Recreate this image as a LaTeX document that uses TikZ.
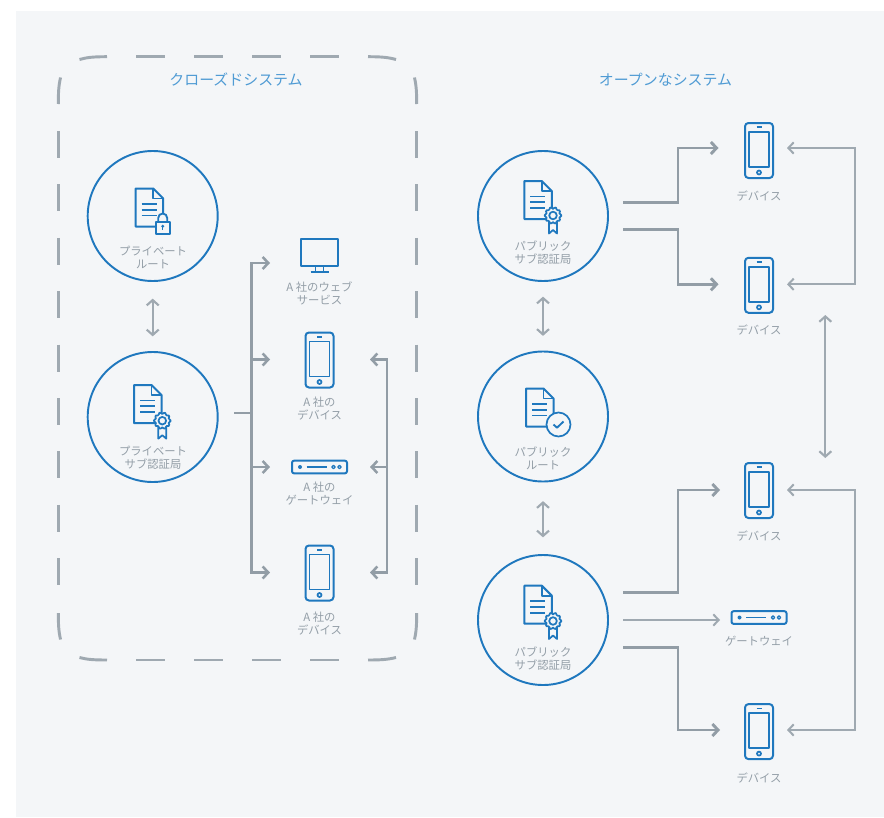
\documentclass[tikz,border=0pt]{standalone}
\usepackage{fontspec}
\setmainfont{Noto Sans CJK JP}
\usetikzlibrary{arrows.meta}
\definecolor{bgc}{HTML}{F4F6F8}
\definecolor{blu}{HTML}{1F78BE}
\definecolor{ttl}{HTML}{4F9BD4}
\definecolor{gry}{HTML}{929DA6}
\definecolor{grl}{HTML}{9FA9B1}
\definecolor{txt}{HTML}{939EA7}
\tikzset{
  ca/.style={circle,draw=blu,line width=1.45pt,minimum size=97.5pt,inner sep=0pt},
  lab/.style={text=txt,font=\fontsize{8.5pt}{9.9pt}\selectfont,align=center,inner sep=0pt},
  ttlt/.style={text=ttl,font=\fontsize{11.2pt}{13pt}\selectfont,inner sep=0pt},
  ic/.style={draw=blu,line width=1.5pt,line join=round},
  dsh/.style={draw=grl,line width=2.2pt},
  tipb/.style={-{Straight Barb[length=4.2pt,width=9pt]}},
  thk/.style={draw=gry,line width=2.2pt,tipb},
  mid/.style={draw=gry,line width=1.9pt,tipb},
  thn/.style={draw=grl,line width=1.5pt,-{Straight Barb[length=4pt,width=8.5pt]}},
  dbl/.style={draw=grl,line width=1.6pt,{Straight Barb[length=4pt,width=9pt]}-{Straight Barb[length=4pt,width=9pt]}},
  box/.style={inner sep=0pt,minimum width=#1,minimum height=1pt},
  phone/.pic={
    \draw[ic,rounded corners=2.6pt] (-14,-27.5) rectangle (14,27.5);
    \draw[ic,line width=1.3pt] (-10,-18.5) rectangle (10,16.5);
    \draw[ic,line width=1.3pt] (-2.5,-23.2) -- (2.5,-23.2);
    \draw[ic,line width=1.3pt] (0,22) circle[radius=2];
  },
  gatew/.pic={
    \draw[ic,rounded corners=1.5pt] (-27.5,-6.3) rectangle (27.5,6.3);
    \fill[blu] (-19.5,0) circle[radius=2];
    \draw[ic,line width=1.2pt] (-13,0) -- (7,0);
    \draw[ic,line width=1pt] (14,0) circle[radius=1.7] (20,0) circle[radius=1.7];
  },
  monitor/.pic={
    \draw[ic] (-18.7,-13.5) rectangle (18.7,13.5);
    \draw[ic,line width=1.3pt] (-4,13.5) -- (-4,19.5) (4,13.5) -- (4,19.5);
    \draw[ic] (-9,19.5) -- (9,19.5);
  },
  docu/.pic={
    \draw[ic] (0,0) -- (17.5,0) -- (27.5,10) -- (27.5,38) -- (0,38) -- cycle;
    \draw[ic,line width=1.2pt] (17.5,0) -- (17.5,10) -- (27.5,10);
    \draw[ic,line width=1.2pt] (6,15.5) -- (21,15.5) (6,21.2) -- (21,21.2) (6,27) -- (21,27);
  },
  sealp/.pic={
    \draw[ic,fill=bgc,line width=1.3pt] (-4,4) -- (-4,18) -- (0,14.5) -- (4,18) -- (4,4);
    \draw[ic,fill=bgc,line width=1.3pt] plot[domain=0:350,samples=36,smooth cycle] ({(7.6+.9*cos(10*\x))*cos(\x)},{(7.6+.9*cos(10*\x))*sin(\x)});
    \draw[ic,line width=1.3pt] (0,0) circle[radius=3.8];
  },
  lockp/.pic={
    \draw[ic,line width=1.4pt,fill=bgc] (-4.5,0) -- (-4.5,-4) arc[start angle=180,end angle=360,radius=4.5] -- (4.5,0);
    \draw[ic,fill=bgc] (-7.2,0) rectangle (7.2,11.5);
    \fill[blu] (0,4.2) circle[radius=1.6];
    \draw[ic,line width=1pt] (0,4.2) -- (0,8);
  },
  checkp/.pic={
    \draw[ic,fill=bgc,line width=1.3pt] (0,0) circle[radius=12];
    \draw[ic,line width=1.4pt] (-5,0) -- (-1.5,3.2) -- (5,-3);
  },
}
\begin{document}
\begin{tikzpicture}[x=.75pt,y=-.75pt]
\useasboundingbox (0,0) rectangle (884,817);
\fill[bgc] (16,11) rectangle (884,817);

% dashed frame
\foreach \a in {136,194,252,310}{
  \draw[dsh] (\a,56.7) -- ++(29,0);
  \draw[dsh] (\a,660) -- ++(29,0);
}
\foreach \a in {131,184.4,237.8,291.2,344.6,398,451.4,504.8,558.2}{
  \draw[dsh] (58.3,\a) -- ++(0,27);
  \draw[dsh] (416.7,\a) -- ++(0,27);
}
\draw[dsh] (79.5,59.5) .. controls (87,57.3) and (94,56.7) .. (107,56.7);
\draw[dsh] (396,59.5) .. controls (388,57.3) and (381,56.7) .. (368,56.7);
\draw[dsh] (79.5,657.5) .. controls (87,659.5) and (94,660) .. (107,660);
\draw[dsh] (396,657.5) .. controls (388,659.5) and (381,660) .. (368,660);
\draw[dsh] (60.5,77.5) .. controls (58.8,85) and (58.3,92) .. (58.3,104);
\draw[dsh] (414.5,77.5) .. controls (416.2,85) and (416.7,92) .. (416.7,104);
\draw[dsh] (60.5,639.5) .. controls (58.8,632) and (58.3,625) .. (58.3,613);
\draw[dsh] (414.5,639.5) .. controls (416.2,632) and (416.7,625) .. (416.7,613);

% titles
\node[ttlt] (t1) at (236,80) {クローズドシステム};
\node[ttlt] (t2) at (665.5,80) {オープンなシステム};

% circles
\node[ca] (c1) at (152.7,216) {};
\node[ca] (c2) at (152.7,417) {};
\node[ca] (c3) at (543,216) {};
\node[ca] (c4) at (543,416.5) {};
\node[ca] (c5) at (543,620) {};

% circle icons
\pic at (135.7,188.5) {docu};
\pic at (162.7,222) {lockp};
\pic at (134,385) {docu};
\pic at (162.3,420.7) {sealp};
\pic at (524.3,181) {docu};
\pic at (553,215.5) {sealp};
\pic at (526,388.5) {docu};
\pic at (558.5,424.5) {checkp};
\pic at (524.3,585.7) {docu};
\pic at (553,621) {sealp};

% circle labels
\node[lab] (l1) at (153,257.5) {プライベート\\ルート};
\node[lab] (l2) at (153,457.5) {プライベート\\サブ認証局};
\node[lab] (l3) at (543,252.5) {パブリック\\サブ認証局};
\node[lab] (l4) at (543,458.5) {パブリック\\ルート};
\node[lab] (l5) at (543,658.5) {パブリック\\サブ認証局};

% device icons
\node[box=20pt] (m1) at (319.5,252.5) {}; \pic at (319.5,252.5) {monitor};
\node[box=20pt] (p1) at (319.5,360) {}; \pic at (319.5,360) {phone};
\node[box=40pt] (g1) at (319.5,467) {}; \pic at (319.5,467) {gatew};
\node[box=20pt] (p2) at (319.5,573) {}; \pic at (319.5,573) {phone};
\node[box=20pt] (p3) at (759,150.5) {}; \pic at (759,150.5) {phone};
\node[box=20pt] (p4) at (759,285.3) {}; \pic at (759,285.3) {phone};
\node[box=20pt] (p5) at (759,490.5) {}; \pic at (759,490.5) {phone};
\node[box=40pt] (g2) at (759,617.5) {}; \pic at (759,617.5) {gatew};
\node[box=20pt] (p6) at (759,731.6) {}; \pic at (759,731.6) {phone};

% device labels
\node[lab] (dl1) at (319.5,293.5) {A 社のウェブ\\サービス};
\node[lab] (dl2) at (319.5,408.5) {A 社の\\デバイス};
\node[lab] (dl3) at (319.5,493.5) {A 社の\\ゲートウェイ};
\node[lab] (dl4) at (319.5,623.5) {A 社の\\デバイス};
\node[lab] (dl5) at (759,195.7) {デバイス};
\node[lab] (dl6) at (759,330) {デバイス};
\node[lab] (dl7) at (759,536) {デバイス};
\node[lab] (dl8) at (759,641) {ゲートウェイ};
\node[lab] (dl9) at (759,778) {デバイス};

% connector anchors
\coordinate (la) at (234,413);
\coordinate (lb) at (251.5,413);
\coordinate (t11) at (270,263);
\coordinate (t12) at (270,359.5);
\coordinate (t13) at (270,467);
\coordinate (t14) at (270,572.5);
\coordinate (r12) at (370,359.5);
\coordinate (r13) at (370,467);
\coordinate (r14) at (370,572.5);
\coordinate (rb) at (387,467);

\coordinate (s1) at (623,202.7);
\coordinate (s2) at (623,229.5);
\coordinate (s3) at (623,592.5);
\coordinate (s4) at (623,620);
\coordinate (s5) at (623,647.5);
\coordinate (i1) at (718.5,148);
\coordinate (i2) at (718.5,284.3);
\coordinate (i3) at (720,490);
\coordinate (i4) at (720,620);
\coordinate (i5) at (720,730);
\coordinate (o1) at (787,148);
\coordinate (o2) at (787,284.3);
\coordinate (o3) at (787,490);
\coordinate (o5) at (787,730);
\coordinate (b1) at (855,216);
\coordinate (b2) at (855,610);
\coordinate (v1) at (825.3,315);
\coordinate (v2) at (825.3,458);

% left tree
\draw[draw=gry,line width=1.9pt] (la) -- (lb);
\draw[mid] (lb) -- (lb |- t11) -- (t11);
\draw[mid] (lb |- t12) -- (t12);
\draw[mid] (lb |- t13) -- (t13);
\draw[mid] (lb) -- (lb |- t14) -- (t14);
\draw[mid] (rb) -- (rb |- r12) -- (r12);
\draw[mid] (rb) -- (r13);
\draw[mid] (rb) -- (rb |- r14) -- (r14);

% right connectors
\draw[thk] (s1) -- ++(55,0) |- (i1);
\draw[thk] (s2) -- ++(55,0) |- (i2);
\draw[thk] (s3) -- ++(55,0) |- (i3);
\draw[thn] (s4) -- (i4);
\draw[thk] (s5) -- ++(55,0) |- (i5);
\draw[thn] (b1) |- (o1);
\draw[thn] (b1) |- (o2);
\draw[thn] (b2) |- (o3);
\draw[thn] (b2) |- (o5);
\draw[dbl] (v1) -- (v2);

% double arrows
\draw[dbl,shorten <=12.5pt,shorten >=11pt] (c1) -- (c2);
\draw[dbl,shorten <=11pt,shorten >=11pt] (c3) -- (c4);
\draw[dbl,shorten <=14pt,shorten >=12.5pt] (c4) -- (c5);
\end{tikzpicture}
\end{document}
